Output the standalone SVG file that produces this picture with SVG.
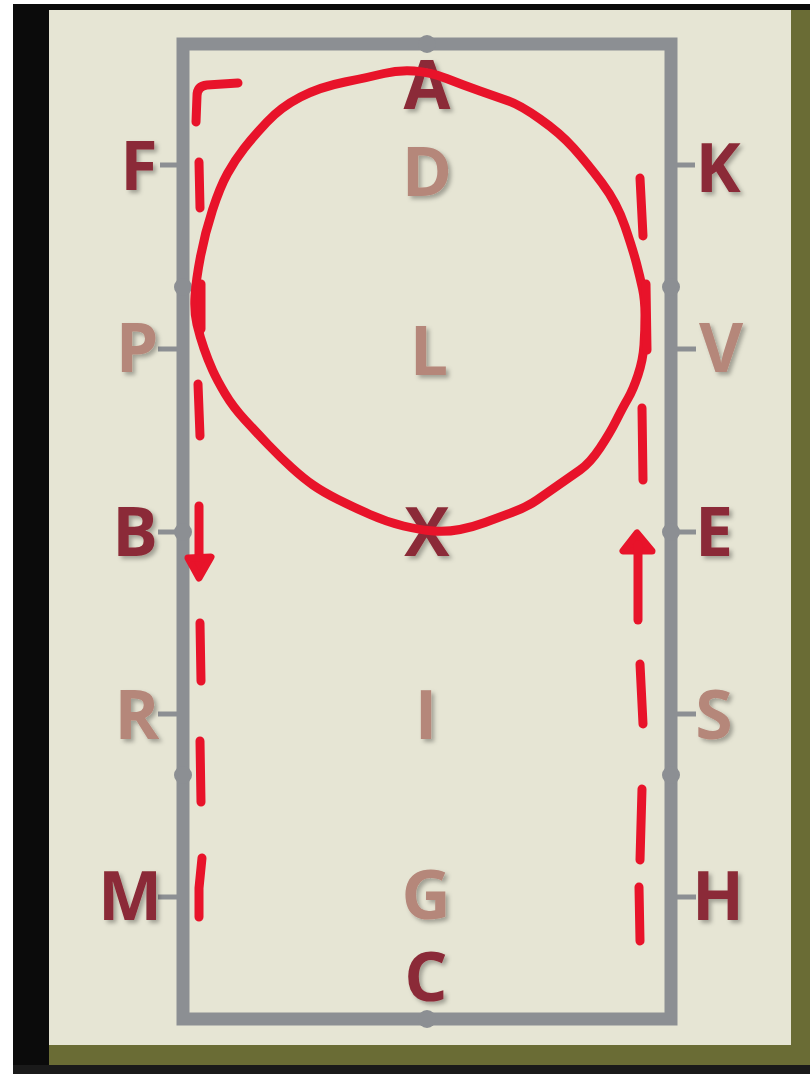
<svg xmlns="http://www.w3.org/2000/svg" width="810" height="1074" viewBox="0 0 810 1074">
<defs>
<filter id="sh" x="-30%" y="-30%" width="160%" height="160%">
<feDropShadow dx="3" dy="3" stdDeviation="2" flood-color="#000" flood-opacity="0.3"/>
</filter>
<style>
.lt{font-family:"Open Sans","DejaVu Sans",sans-serif;font-weight:700;font-size:68px;text-anchor:middle;filter:url(#sh)}
.dk{fill:#8b2c37}
.li{fill:#b5877a}
.tick{stroke:#8c8f93;stroke-width:5}
.dot{fill:#8c8f93}
.red{fill:none;stroke:#e8132a;stroke-width:9;stroke-linecap:round;stroke-linejoin:round}
.redf{fill:#e8132a;stroke:#e8132a;stroke-width:7;stroke-linejoin:round}
</style>
</defs>
<rect x="0" y="0" width="810" height="1074" fill="#ffffff"/>
<rect x="13" y="4" width="797" height="1070" fill="#0b0b0b"/>
<rect x="13" y="1065" width="797" height="9" fill="#1a1a1a"/>
<rect x="49" y="10" width="761" height="1055" fill="#6a6c35"/>
<rect x="49" y="10" width="742" height="1035" fill="#e6e5d4"/>
<g id="arena">
<rect x="183" y="44" width="488" height="975" fill="none" stroke="#8c8f93" stroke-width="13"/>
<circle class="dot" cx="427" cy="44" r="9"/>
<circle class="dot" cx="427" cy="1019" r="9"/>
<circle class="dot" cx="183" cy="287" r="9"/>
<circle class="dot" cx="183" cy="532" r="9"/>
<circle class="dot" cx="183" cy="775" r="9"/>
<circle class="dot" cx="671" cy="287" r="9"/>
<circle class="dot" cx="671" cy="532" r="9"/>
<circle class="dot" cx="671" cy="775" r="9"/>
<line class="tick" x1="160" y1="165" x2="177" y2="165"/>
<line class="tick" x1="158" y1="349" x2="177" y2="349"/>
<line class="tick" x1="158" y1="532" x2="177" y2="532"/>
<line class="tick" x1="158" y1="714" x2="177" y2="714"/>
<line class="tick" x1="158" y1="897" x2="177" y2="897"/>
<line class="tick" x1="677" y1="165" x2="695" y2="165"/>
<line class="tick" x1="677" y1="349" x2="696" y2="349"/>
<line class="tick" x1="677" y1="532" x2="696" y2="532"/>
<line class="tick" x1="677" y1="714" x2="696" y2="714"/>
<line class="tick" x1="677" y1="897" x2="696" y2="897"/>
</g>
<g id="node-A"><text class="lt dk" x="427" y="109">A</text></g>
<g id="node-D"><text class="lt li" x="427" y="196">D</text></g>
<g id="node-L"><text class="lt li" x="429" y="375">L</text></g>
<g id="node-X"><text class="lt dk" x="427" y="556">X</text></g>
<g id="node-I"><text class="lt li" x="426" y="739">I</text></g>
<g id="node-G"><text class="lt li" x="426" y="919">G</text></g>
<g id="node-C"><text class="lt dk" x="426" y="1001">C</text></g>
<g id="node-F"><text class="lt dk" x="139" y="190">F</text></g>
<g id="node-P"><text class="lt li" x="137" y="372">P</text></g>
<g id="node-B"><text class="lt dk" x="135" y="556">B</text></g>
<g id="node-R"><text class="lt li" x="137" y="739">R</text></g>
<g id="node-M"><text class="lt dk" x="130" y="920">M</text></g>
<g id="node-K"><text class="lt dk" x="718" y="192">K</text></g>
<g id="node-V"><text class="lt li" x="721" y="372">V</text></g>
<g id="node-E"><text class="lt dk" x="714" y="556">E</text></g>
<g id="node-S"><text class="lt li" x="714" y="739">S</text></g>
<g id="node-H"><text class="lt dk" x="718" y="920">H</text></g>
<g id="connectors">
<path class="red" d="M195,296 Q196,280 200.5,256.5 Q205,233 212.5,210 Q220,187 227.5,173.5 Q235,160 244,148.5 Q253,137 267,122 Q281,107 300.5,97 Q320,87 345,82 Q370,77 384,73.5 Q398,70 414,71 Q430,72 446.5,78.5 Q463,85 480,91 Q497,97 508.5,101 Q520,105 540,119 Q560,133 573.5,148 Q587,163 602,183 Q617,203 625,226.5 Q633,250 636.5,263.5 Q640,277 642.5,288.5 Q645,300 645,315 Q645,330 644,345 Q643,360 638,375 Q633,390 628,398.5 Q623,407 616.5,420 Q610,433 600,448 Q590,463 580,470 Q570,477 558.5,485 Q547,493 537,500 Q527,507 512,512.5 Q497,518 485,522.5 Q473,527 460,529.5 Q447,532 433.5,531 Q420,530 403.5,526 Q387,522 370,514.5 Q353,507 338,499.5 Q323,492 313,485 Q303,478 291.5,467.5 Q280,457 268.5,445 Q257,433 245,420 Q233,407 225,393.5 Q217,380 212.5,370 Q208,360 204,348.5 Q200,337 197,324.5 Q194,312 195,296 Z"/>
<path class="red" d="M238,83 L207,85 Q197,86 197,96 L196,122"/>
<path class="red" d="M199,162 L200,208"/>
<path class="red" d="M201,284 L201,329"/>
<path class="red" d="M198,384 L200,436"/>
<path class="red" d="M199,506 L199,574"/>
<path class="redf" d="M188,558 L199,578 L211,557 Z"/>
<path class="red" d="M200,623 L201,681"/>
<path class="red" d="M200,741 L201,802"/>
<path class="red" d="M202,858 L199,888 L199,917"/>
<path class="red" d="M640,178 L643,236"/>
<path class="red" d="M646,284 L647,350"/>
<path class="red" d="M642,408 L643,480"/>
<path class="redf" d="M637,533 L623,551 L652,551 Z"/>
<path class="red" d="M638,545 L638,620"/>
<path class="red" d="M640,664 L643,724"/>
<path class="red" d="M642,789 L640,860"/>
<path class="red" d="M639,887 L640,941"/>
</g>
</svg>
